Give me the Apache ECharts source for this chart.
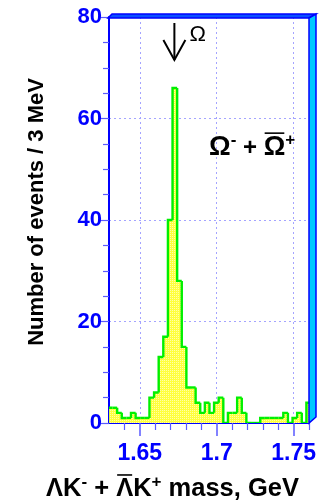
<!DOCTYPE html>
<html>
<head>
<meta charset="utf-8">
<script src="https://cdn.jsdelivr.net/npm/echarts@6/dist/echarts.min.js"></script>
<style>
  html, body { margin: 0; padding: 0; background: #ffffff; }
  #c { width: 331px; height: 503px; }
</style>
</head>
<body>
<div id="c"></div>
<script>
// Invariant-mass histogram: 3 MeV bins of Lambda-K combinations
const binStart = 1.6293;   // GeV, low edge of the first bin
const binWidth = 0.003;    // GeV
const counts = [
  3, 3, 2, 1, 1, 2, 1, 1, 1, 5,
  6, 13, 17, 40, 66, 28, 15, 7, 7, 4,
  2, 4, 2, 4, 5, 0, 2, 2, 5, 2,
  0, 0, 0, 1, 1, 1, 1, 1, 2, 0,
  1, 2, 0, 4
];
const xMajorTicks = [1.65, 1.7, 1.75];
const xMinorTicks = [1.64, 1.66, 1.67, 1.68, 1.69, 1.71, 1.72, 1.73, 1.74, 1.76];
const omegaMass = 1.6725;  // GeV, arrow position

const FONT = '"Liberation Sans", Arial, Helvetica, sans-serif';
const W = 331, H = 503;
const GRID = { left: 109, top: 17, right: 22, bottom: 80 };
const gx0 = GRID.left, gx1 = W - GRID.right, gy0 = GRID.top, gy1 = H - GRID.bottom;

const binData = counts.map((c, i) => [
  binStart + i * binWidth,
  binStart + (i + 1) * binWidth,
  c,
  i > 0 ? counts[i - 1] : 0
]);

// cross-hatched yellow fill
function makePattern() {
  const cv = document.createElement('canvas');
  cv.width = 4; cv.height = 4;
  const g = cv.getContext('2d');
  g.fillStyle = '#ffff3c';
  g.fillRect(0, 0, 4, 4);
  g.fillStyle = '#ffffa8';
  g.fillRect(0, 0, 1, 1);
  g.fillRect(2, 2, 1, 1);
  g.fillRect(2, 0, 1, 1);
  g.fillRect(0, 2, 1, 1);
  return cv;
}
const hatch = { image: makePattern(), repeat: 'repeat' };

// text measuring for composed labels (superscripts, overlines)
const measureCtx = document.createElement('canvas').getContext('2d');
function textWidth(t, size, weight) {
  measureCtx.font = weight + ' ' + size + 'px ' + FONT;
  return measureCtx.measureText(t).width;
}
function composedText(x, cy, pieces) {
  const els = [];
  let cx = x;
  pieces.forEach(p => {
    const w = textWidth(p.t, p.size, p.weight);
    els.push({
      type: 'text', x: cx, y: cy + (p.dy || 0), z: 50,
      style: {
        text: p.t, fill: '#000', font: p.weight + ' ' + p.size + 'px ' + FONT,
        align: 'left', verticalAlign: 'middle'
      }
    });
    if (p.over) {
      els.push({
        type: 'line', z: 50,
        shape: { x1: cx + 1, y1: cy - p.size * 0.55, x2: cx + w - 1, y2: cy - p.size * 0.55 },
        style: { stroke: '#000', lineWidth: 1.6 }
      });
    }
    cx += w;
  });
  return els;
}

const chart = echarts.init(document.getElementById('c'), null, { renderer: 'canvas' });

const axisBlue = '#0000ff';
const tickBlue = '#5a5aff';
const gridLine = { show: true, lineStyle: { color: '#a4a4ff', width: 1, type: [2, 3] } };

chart.setOption({
  animation: false,
  backgroundColor: '#ffffff',
  grid: { left: GRID.left, top: GRID.top, right: GRID.right, bottom: GRID.bottom },
  xAxis: [
    {
      type: 'value', min: 1.63, max: 1.76,
      axisLine: { show: true, onZero: false, lineStyle: { color: axisBlue, width: 2 } },
      axisTick: { show: true, length: 13, customValues: xMajorTicks, lineStyle: { color: tickBlue, width: 1.5 } },
      axisLabel: {
        customValues: xMajorTicks, margin: 19, color: axisBlue,
        fontFamily: FONT, fontWeight: 'bold', fontSize: 23,
        formatter: v => String(v)
      },
      splitLine: gridLine
    },
    {
      type: 'value', min: 1.63, max: 1.76, position: 'bottom',
      axisLine: { show: false },
      axisTick: { show: true, length: 7, customValues: xMinorTicks, lineStyle: { color: tickBlue, width: 1.2 } },
      axisLabel: { show: false },
      splitLine: { show: false }
    }
  ],
  yAxis: {
    type: 'value', min: 0, max: 80, interval: 20,
    axisLine: { show: true, lineStyle: { color: axisBlue, width: 2 } },
    axisTick: { show: true, length: 11, lineStyle: { color: tickBlue, width: 1.2 } },
    minorTick: { show: true, splitNumber: 4, length: 6, lineStyle: { color: tickBlue, width: 1.2 } },
    axisLabel: {
      margin: 7, color: axisBlue, fontFamily: FONT, fontWeight: 'bold', fontSize: 22
    },
    splitLine: gridLine
  },
  series: [
    {
      type: 'custom', name: 'fill', data: binData, clip: true, z: 2, silent: true,
      encode: { x: [0, 1], y: 2 },
      renderItem: (params, api) => {
        const a = api.coord([api.value(0), 0]);
        const b = api.coord([api.value(1), api.value(2)]);
        return {
          type: 'rect',
          shape: { x: a[0], y: b[1], width: b[0] - a[0] + 0.4, height: a[1] - b[1] },
          style: { fill: hatch }
        };
      }
    },
    {
      type: 'custom', name: 'outline', data: binData, clip: true, z: 3, silent: true,
      encode: { x: [0, 1], y: 2 },
      renderItem: (params, api) => {
        const lo = api.value(0), hi = api.value(1), c = api.value(2), p = api.value(3);
        const a = api.coord([lo, p]);
        const b = api.coord([lo, c]);
        const d = api.coord([hi, c]);
        return {
          type: 'polyline',
          shape: { points: [a, b, d] },
          style: { stroke: '#00f000', lineWidth: 2.4, fill: null, lineJoin: 'miter' }
        };
      }
    }
  ]
});

// arrow marking the Omega mass
const ax = chart.convertToPixel({ xAxisIndex: 0 }, omegaMass);

const graphics = [
  // top face of the frame
  {
    type: 'polygon', z: 40,
    shape: { points: [[gx0 - 1, gy0 + 1], [gx0 + 3, gy0 - 3], [gx1 + 7, gy0 - 3], [gx1, gy0 + 1]] },
    style: { fill: '#0a50ff', stroke: axisBlue, lineWidth: 1.5 }
  },
  // right side face of the frame
  {
    type: 'polygon', z: 40,
    shape: { points: [[gx1, gy0 + 1], [gx1 + 7, gy0 - 3], [gx1 + 7, gy1 - 6], [gx1, gy1]] },
    style: { fill: '#00c8ff', stroke: axisBlue, lineWidth: 1.5 }
  },
  // arrow
  {
    type: 'line', z: 50,
    shape: { x1: ax, y1: 23, x2: ax, y2: 60 },
    style: { stroke: '#000', lineWidth: 2 }
  },
  {
    type: 'polyline', z: 50,
    shape: { points: [[ax - 11, 40], [ax, 60], [ax + 11, 40]] },
    style: { stroke: '#000', lineWidth: 2, fill: null }
  },
  {
    type: 'text', x: ax + 15, y: 35, z: 50,
    style: { text: 'Ω', fill: '#000', font: 'normal 22px ' + FONT, align: 'left', verticalAlign: 'middle' }
  },
  // y-axis title
  {
    type: 'text', x: 37, y: 212, rotation: Math.PI / 2, z: 50,
    style: {
      text: 'Number of events / 3 MeV', fill: '#000',
      font: 'bold 22px ' + FONT, align: 'center', verticalAlign: 'middle'
    }
  }
];

// Omega- + anti-Omega+ label
graphics.push(...composedText(209, 148, [
  { t: 'Ω', size: 27, weight: 'bold' },
  { t: '-', size: 17, weight: 'bold', dy: -8 },
  { t: ' + ', size: 24, weight: 'bold' },
  { t: 'Ω', size: 27, weight: 'bold', over: true },
  { t: '+', size: 17, weight: 'bold', dy: -8 }
]));

// x-axis title
graphics.push(...composedText(46, 489, [
  { t: 'ΛK', size: 25.5, weight: 'bold' },
  { t: '-', size: 17, weight: 'bold', dy: -7 },
  { t: ' + ', size: 25.5, weight: 'bold' },
  { t: 'Λ', size: 25.5, weight: 'bold', over: true },
  { t: 'K', size: 25.5, weight: 'bold' },
  { t: '+', size: 17, weight: 'bold', dy: -7 },
  { t: ' mass, GeV', size: 25.5, weight: 'bold' }
]));

chart.setOption({ graphic: { elements: graphics } });
</script>
</body>
</html>
